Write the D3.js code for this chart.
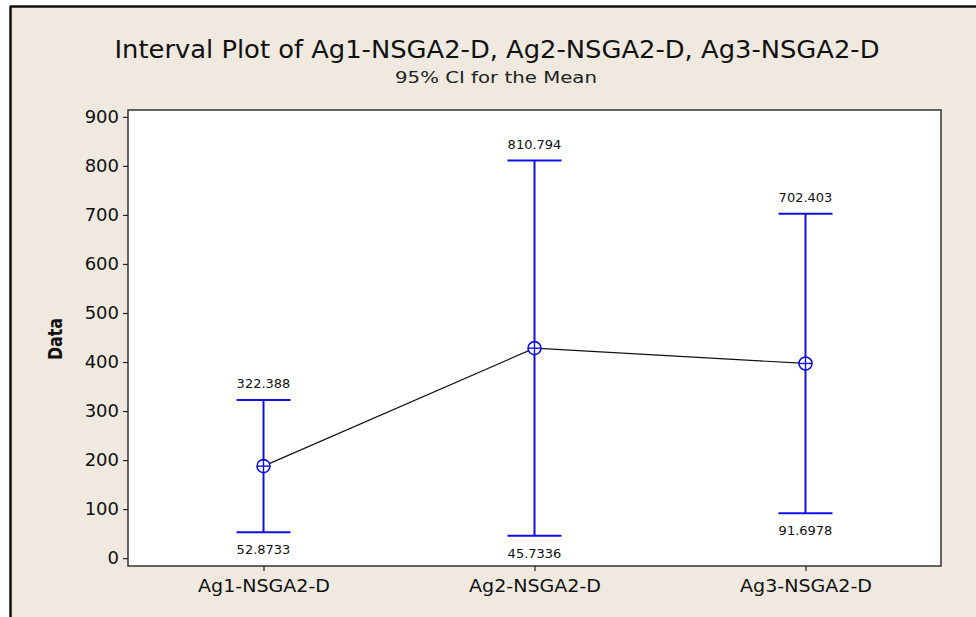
<!DOCTYPE html>
<html>
<head>
<meta charset="utf-8">
<script src="https://cdn.jsdelivr.net/npm/d3@7"></script>
<style>
  html, body { margin: 0; padding: 0; background: #ffffff; }
  svg { display: block; }
  text { font-family: "DejaVu Sans", Verdana, sans-serif; }
</style>
</head>
<body>
<svg id="chart" width="976" height="617"></svg>
<script>
// Columns and their 95% confidence intervals for the mean
const categories = ["Ag1-NSGA2-D", "Ag2-NSGA2-D", "Ag3-NSGA2-D"];
const lowerCI = [52.8733, 45.7336, 91.6978];
const upperCI = [322.388, 810.794, 702.403];
const lowerLabels = ["52.8733", "45.7336", "91.6978"];
const upperLabels = ["322.388", "810.794", "702.403"];
const yTicks = [0, 100, 200, 300, 400, 500, 600, 700, 800, 900];

const titleText = "Interval Plot of Ag1-NSGA2-D, Ag2-NSGA2-D, Ag3-NSGA2-D";
const subtitleText = "95% CI for the Mean";
const yAxisTitle = "Data";

const rows = categories.map((c, i) => ({
  cat: c,
  lo: lowerCI[i],
  hi: upperCI[i],
  mean: (lowerCI[i] + upperCI[i]) / 2,
  loLabel: lowerLabels[i],
  hiLabel: upperLabels[i]
}));

const svg = d3.select("#chart");
const W = 976, H = 617;
const plot = { left: 128, top: 110, right: 941, bottom: 566 };

// Outer panel with dark edge on top and left
svg.append("rect").attr("x", 10).attr("y", 6).attr("width", W - 10).attr("height", H - 6)
  .attr("fill", "#efe9df");
svg.append("line").attr("x1", 10).attr("x2", W).attr("y1", 6.5).attr("y2", 6.5)
  .attr("stroke", "#111").attr("stroke-width", 2.5);
svg.append("line").attr("x1", 10.5).attr("x2", 10.5).attr("y1", 6).attr("y2", H)
  .attr("stroke", "#111").attr("stroke-width", 2.5);

// Titles
svg.append("text").attr("x", 497).attr("y", 58).attr("text-anchor", "middle")
  .attr("font-size", 24).attr("fill", "#111")
  .attr("textLength", 765).attr("lengthAdjust", "spacingAndGlyphs")
  .text(titleText);
svg.append("text").attr("x", 496).attr("y", 83).attr("text-anchor", "middle")
  .attr("font-size", 16).attr("fill", "#222")
  .attr("textLength", 202).attr("lengthAdjust", "spacingAndGlyphs")
  .text(subtitleText);

// Scales
const x = d3.scalePoint().domain(categories).range([plot.left, plot.right]).padding(0.5);
const y = d3.scaleLinear().domain([-16, 914]).range([plot.bottom, plot.top]);

// Plot area
svg.append("rect").attr("x", plot.left).attr("y", plot.top)
  .attr("width", plot.right - plot.left).attr("height", plot.bottom - plot.top)
  .attr("fill", "#ffffff").attr("stroke", "#333").attr("stroke-width", 1.5);

// Y axis
const yAxis = svg.append("g").attr("transform", `translate(${plot.left},0)`)
  .call(d3.axisLeft(y).tickValues(yTicks).tickSize(5).tickPadding(4).tickSizeOuter(0));
yAxis.select(".domain").remove();
yAxis.selectAll(".tick line").attr("stroke", "#222").attr("stroke-width", 1.2);
yAxis.selectAll(".tick text").attr("font-size", 18).attr("fill", "#111")
  .attr("font-family", "DejaVu Sans, sans-serif");

// X axis
const xAxis = svg.append("g").attr("transform", `translate(0,${plot.bottom})`)
  .call(d3.axisBottom(x).tickSize(5).tickPadding(8).tickSizeOuter(0));
xAxis.select(".domain").remove();
xAxis.selectAll(".tick line").attr("stroke", "#222").attr("stroke-width", 1.2);
xAxis.selectAll(".tick text").attr("font-size", 18).attr("fill", "#111")
  .attr("font-family", "DejaVu Sans, sans-serif")
  .attr("textLength", 132).attr("lengthAdjust", "spacingAndGlyphs");

// Y axis title
svg.append("text")
  .attr("transform", `translate(62,339) rotate(-90)`)
  .attr("text-anchor", "middle").attr("font-size", 19).attr("font-weight", "bold")
  .attr("fill", "#111").attr("textLength", 42).attr("lengthAdjust", "spacingAndGlyphs")
  .text(yAxisTitle);

// Line joining the means
svg.append("path").datum(rows)
  .attr("d", d3.line().x(d => x(d.cat)).y(d => y(d.mean)))
  .attr("fill", "none").attr("stroke", "#111").attr("stroke-width", 1.2);

const blue = "#1010e6";
const capHalf = 27;
const bars = svg.append("g").selectAll("g").data(rows).join("g");

bars.append("line")
  .attr("x1", d => x(d.cat)).attr("x2", d => x(d.cat))
  .attr("y1", d => y(d.hi)).attr("y2", d => y(d.lo))
  .attr("stroke", blue).attr("stroke-width", 2);
bars.append("line")
  .attr("x1", d => x(d.cat) - capHalf).attr("x2", d => x(d.cat) + capHalf)
  .attr("y1", d => y(d.hi)).attr("y2", d => y(d.hi))
  .attr("stroke", blue).attr("stroke-width", 2);
bars.append("line")
  .attr("x1", d => x(d.cat) - capHalf).attr("x2", d => x(d.cat) + capHalf)
  .attr("y1", d => y(d.lo)).attr("y2", d => y(d.lo))
  .attr("stroke", blue).attr("stroke-width", 2);

// Mean marker: circle with crosshair
bars.append("circle")
  .attr("cx", d => x(d.cat)).attr("cy", d => y(d.mean)).attr("r", 6.5)
  .attr("fill", "#ffffff").attr("stroke", blue).attr("stroke-width", 1.6);
bars.append("line")
  .attr("x1", d => x(d.cat) - 6.5).attr("x2", d => x(d.cat) + 6.5)
  .attr("y1", d => y(d.mean)).attr("y2", d => y(d.mean))
  .attr("stroke", blue).attr("stroke-width", 1.4);
bars.append("line")
  .attr("x1", d => x(d.cat)).attr("x2", d => x(d.cat))
  .attr("y1", d => y(d.mean) - 6.5).attr("y2", d => y(d.mean) + 6.5)
  .attr("stroke", blue).attr("stroke-width", 1.4);

// Interval end labels
bars.append("text")
  .attr("x", d => x(d.cat)).attr("y", d => y(d.hi) - 12)
  .attr("text-anchor", "middle").attr("font-size", 13).attr("fill", "#111")
  .text(d => d.hiLabel);
bars.append("text")
  .attr("x", d => x(d.cat)).attr("y", d => y(d.lo) + 22)
  .attr("text-anchor", "middle").attr("font-size", 13).attr("fill", "#111")
  .text(d => d.loLabel);
</script>
</body>
</html>
